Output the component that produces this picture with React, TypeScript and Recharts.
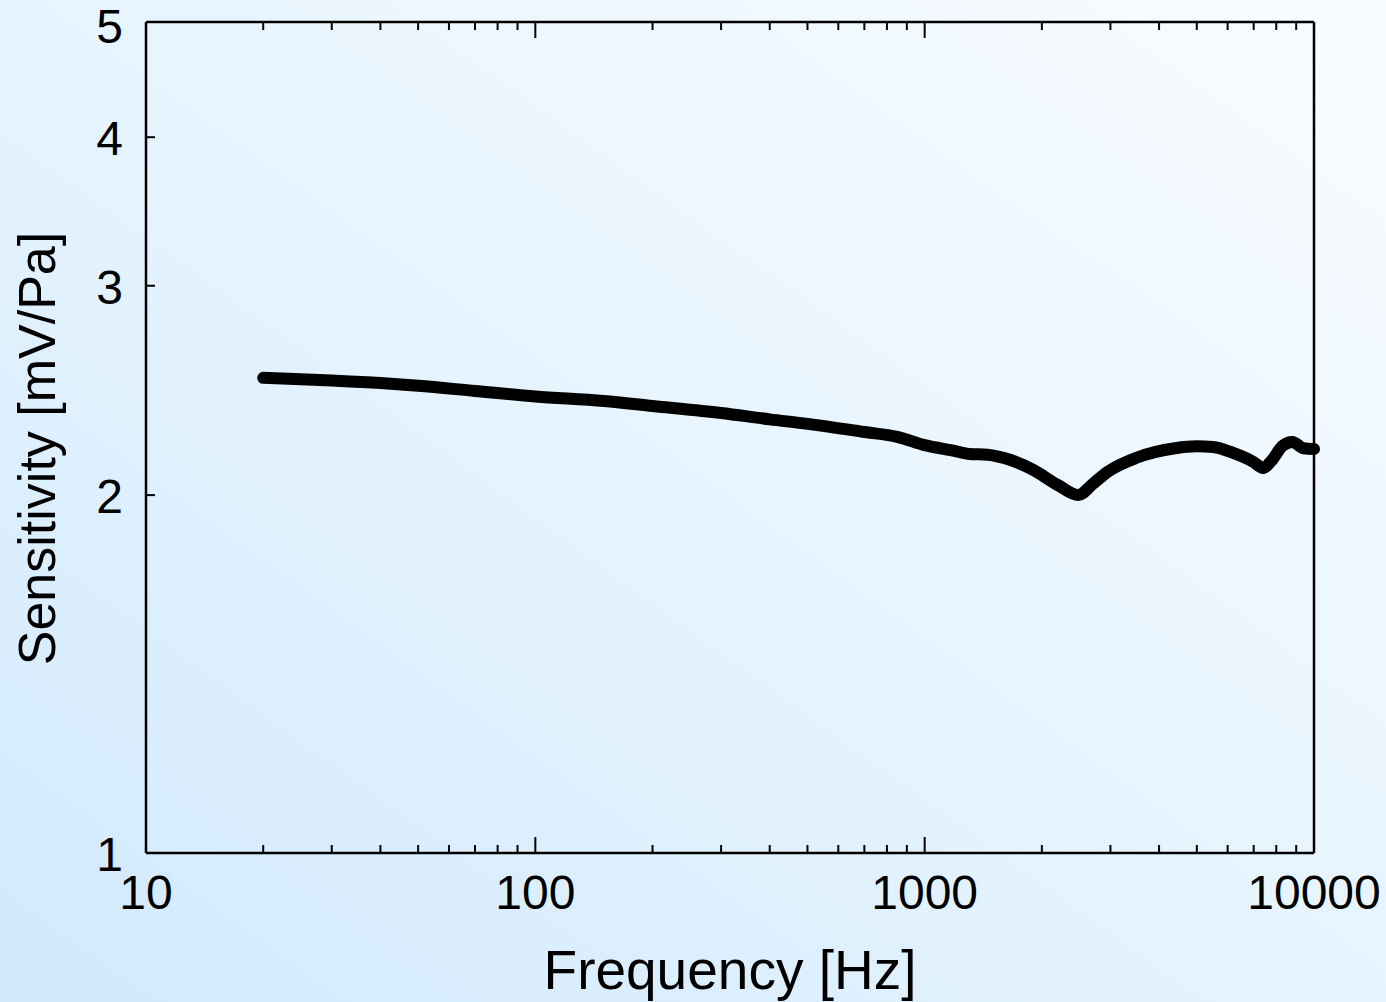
import { LineChart, Line, XAxis, YAxis } from 'recharts';

const frequencyHz = [
  20, 30, 40, 50, 70, 100, 150, 200, 300, 400, 500, 700, 850, 1000, 1200, 1300, 1450, 1600, 1900,
  2200, 2480, 2700, 2950, 3500, 4400, 5000, 5500, 6200, 7000, 7400, 7800, 8300, 8800, 9400, 10000,
];
const sensitivity = [
  2.51, 2.497, 2.485, 2.472, 2.447, 2.421, 2.4, 2.377, 2.345, 2.316, 2.296, 2.26, 2.239, 2.203,
  2.178, 2.166, 2.163, 2.149, 2.1, 2.039, 2.0, 2.043, 2.092, 2.15, 2.19, 2.198, 2.195, 2.17, 2.132,
  2.108, 2.14, 2.2, 2.217, 2.19, 2.187,
];

const xMajor = [10, 100, 1000, 10000];
const xTicks = [
  10, 20, 30, 40, 50, 60, 70, 80, 90, 100, 200, 300, 400, 500, 600, 700, 800, 900, 1000, 2000,
  3000, 4000, 5000, 6000, 7000, 8000, 9000, 10000,
];
const yTicks = [1, 2, 3, 4, 5];

const data = frequencyHz.map((f, i) => ({ f, s: sensitivity[i] }));

const FONT = '"Liberation Sans", Arial, Helvetica, sans-serif';

function BottomTick({ x, y, payload }: any) {
  const major = xMajor.includes(payload.value);
  return (
    <g>
      <line x1={x} x2={x} y1={y} y2={y - (major ? 16 : 8)} stroke="#000" strokeWidth={2} />
      {major && (
        <text x={x} y={y + 56} textAnchor="middle" fontSize={48} fontFamily={FONT} fill="#000">
          {payload.value}
        </text>
      )}
    </g>
  );
}

function TopTick({ x, y, payload }: any) {
  const major = xMajor.includes(payload.value);
  return <line x1={x} x2={x} y1={y} y2={y + (major ? 16 : 8)} stroke="#000" strokeWidth={2} />;
}

function LeftTick({ x, y, payload }: any) {
  const shift = payload.value === 5 ? 4 : 1;
  return (
    <g>
      <line x1={x} x2={x + 9} y1={y} y2={y} stroke="#000" strokeWidth={2} />
      <text x={x - 23} y={y + 17 + shift} textAnchor="end" fontSize={48} fontFamily={FONT} fill="#000">
        {payload.value}
      </text>
    </g>
  );
}

function RightTick({ x, y }: any) {
  return <line x1={x} x2={x - 9} y1={y} y2={y} stroke="#000" strokeWidth={2} />;
}

export default function App() {
  return (
    <div
      style={{
        position: 'absolute',
        left: 0,
        top: 0,
        width: 1386,
        height: 1002,
        background: 'linear-gradient(to top right, #d1e9fc 0%, #e6f4fe 50%, #f9fcff 100%)',
      }}
    >
      <LineChart width={1386} height={1002} data={data} margin={{ top: 21, right: 71, bottom: 0, left: 0 }}>
        <XAxis
          dataKey="f"
          type="number"
          scale="log"
          domain={[10, 10000]}
          ticks={xTicks}
          interval={0}
          height={149}
          tickSize={0}
          tickMargin={0}
          axisLine={{ stroke: '#000', strokeWidth: 2.5 }}
          tick={<BottomTick />}
          label={{
            content: ({ viewBox }: any) => (
              <text
                x={viewBox.x + viewBox.width / 2}
                y={viewBox.y + 136}
                textAnchor="middle"
                fontSize={55}
                fontFamily={FONT}
                fill="#000"
              >
                Frequency [Hz]
              </text>
            ),
          }}
        />
        <XAxis
          xAxisId="top"
          orientation="top"
          dataKey="f"
          type="number"
          scale="log"
          domain={[10, 10000]}
          ticks={xTicks}
          interval={0}
          height={1}
          tickSize={0}
          tickMargin={0}
          axisLine={{ stroke: '#000', strokeWidth: 2.5 }}
          tick={<TopTick />}
        />
        <YAxis
          type="number"
          scale="log"
          domain={[1, 5]}
          ticks={yTicks}
          interval={0}
          width={146}
          tickSize={0}
          tickMargin={0}
          axisLine={{ stroke: '#000', strokeWidth: 2.5 }}
          tick={<LeftTick />}
          label={{
            content: ({ viewBox }: any) => {
              const cx = 55;
              const cy = viewBox.y + viewBox.height / 2 + 11;
              return (
                <text
                  x={cx}
                  y={cy}
                  transform={`rotate(-90 ${cx} ${cy})`}
                  textAnchor="middle"
                  fontSize={52}
                  fontFamily={FONT}
                  fill="#000"
                >
                  Sensitivity [mV/Pa]
                </text>
              );
            },
          }}
        />
        <YAxis
          yAxisId="right"
          orientation="right"
          type="number"
          scale="log"
          domain={[1, 5]}
          ticks={yTicks}
          interval={0}
          width={1}
          tickSize={0}
          tickMargin={0}
          axisLine={{ stroke: '#000', strokeWidth: 2.5 }}
          tick={<RightTick />}
        />
        <Line
          dataKey="s"
          type="monotone"
          stroke="#000"
          strokeWidth={12}
          strokeLinecap="round"
          strokeLinejoin="round"
          dot={false}
          activeDot={false}
          isAnimationActive={false}
        />
      </LineChart>
    </div>
  );
}
